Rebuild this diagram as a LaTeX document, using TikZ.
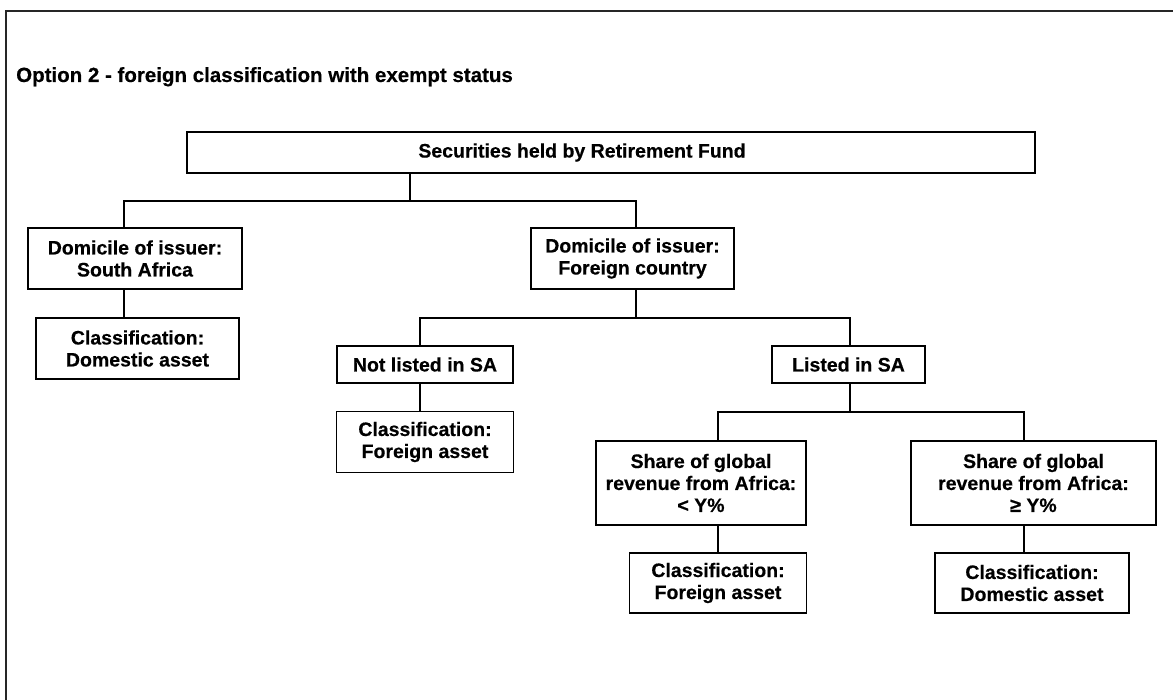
\documentclass[tikz,border=0pt]{standalone}
\usepackage{fontspec}
\setmainfont[BoldFeatures={FakeBold=0.4}]{Liberation Sans}
\begin{document}
\begin{tikzpicture}[x=1pt,y=-1pt,
  box/.style={draw, line width=1.4pt, inner sep=0pt, align=center,
    font=\bfseries\fontsize{19.5}{22}\selectfont},
  conn/.style={line width=1.4pt},
  frame/.style={line width=2.2pt, black!85}]
\useasboundingbox (0,0) rectangle (1173,700);
\begin{scope}
\clip (0,0) rectangle (1173,700);
\draw[frame] (6,720) -- (6,11) -- (1200,11);
\end{scope}
\node[anchor=base west, inner sep=0pt, font=\bfseries\fontsize{20.5}{24}\selectfont] (title) at (16,82) {Option 2 - foreign classification with exempt status};

\node[box, minimum width=848, minimum height=41] (top) at (611,152.5) {Securities held by Retirement Fund\hspace*{58pt}};
\node[box, minimum width=214, minimum height=61] (sa) at (135,258.5) {Domicile of issuer:\\South Africa};
\node[box, minimum width=203, minimum height=61] (domA) at (137.5,348.5) {Classification:\\Domestic asset};
\node[box, minimum width=203, minimum height=61] (fc) at (632.5,258.5) {Domicile of issuer:\\Foreign country};
\node[box, minimum width=176, minimum height=37] (nl) at (425,364.5) {Not listed in SA};
\node[box, minimum width=177, minimum height=61] (fa1) at (425,442) {Classification:\\Foreign asset};
\node[box, minimum width=153, minimum height=37] (ls) at (848.5,364.5) {Listed in SA};
\node[box, minimum width=210, minimum height=84] (shL) at (701,483) {Share of global\\revenue from Africa:\\{<} Y\%};
\node[box, minimum width=245, minimum height=84] (shR) at (1033.5,483) {Share of global\\revenue from Africa:\\≥ Y\%};
\node[box, minimum width=177, minimum height=60] (fa2) at (718,583) {Classification:\\Foreign asset};
\node[box, minimum width=194, minimum height=60] (da2) at (1032,583) {Classification:\\Domestic asset};

\coordinate (j1) at (410,201);
\coordinate (j2) at (636,318);
\coordinate (j3) at (850,412);
\coordinate (xSA) at (124,0);
\coordinate (xNL) at (420,0);
\coordinate (xL) at (718,0);
\coordinate (xR) at (1024,0);

\draw[conn] (top.south -| j1) -- (j1);
\draw[conn] (sa.north -| xSA) |- (j1) -| (fc.north -| j2);
\draw[conn] (sa.south -| xSA) -- (domA.north -| xSA);
\draw[conn] (fc.south -| j2) -- (j2);
\draw[conn] (nl.north -| xNL) |- (j2) -| (ls.north -| j3);
\draw[conn] (nl.south -| xNL) -- (fa1.north -| xNL);
\draw[conn] (ls.south -| j3) -- (j3);
\draw[conn] (shL.north -| xL) |- (j3) -| (shR.north -| xR);
\draw[conn] (shL.south -| xL) -- (fa2.north -| xL);
\draw[conn] (shR.south -| xR) -- (da2.north -| xR);
\end{tikzpicture}
\end{document}
